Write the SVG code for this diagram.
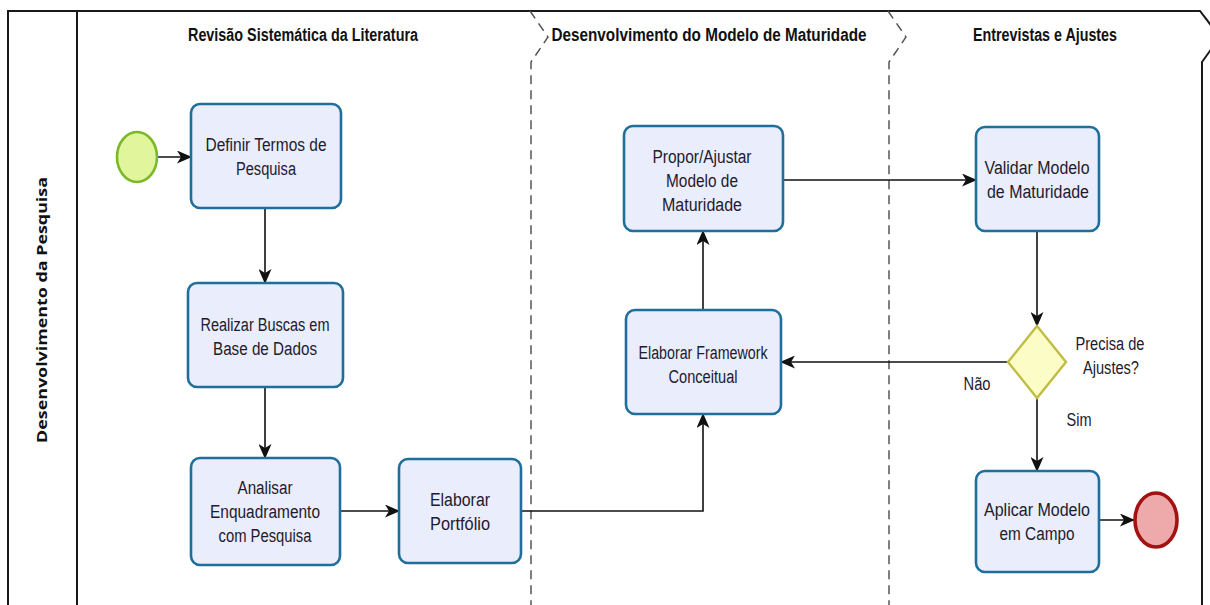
<svg xmlns="http://www.w3.org/2000/svg" width="1210" height="605" viewBox="0 0 1210 605">
<style>
.frame{fill:none;stroke:#1a1a1a;stroke-width:2}
.lane{fill:none;stroke:#555;stroke-width:1.5;stroke-dasharray:9 6}
.task{fill:#e9edfc;stroke:#1f6e9b;stroke-width:2.6}
.t{font-family:"Liberation Sans",Arial,sans-serif;font-size:18px;fill:#231a2e;text-anchor:middle}
.h{font-family:"Liberation Sans",Arial,sans-serif;font-size:18px;font-weight:bold;fill:#111;text-anchor:middle}
.v{font-family:"Open Sans","Liberation Sans",sans-serif;font-size:15px;font-weight:bold;fill:#111;text-anchor:middle}
.conn{fill:none;stroke:#111;stroke-width:1.6}
</style>
<defs>
<marker id="arr" viewBox="0 0 15 13" refX="14" refY="6.5" markerWidth="15" markerHeight="13" markerUnits="userSpaceOnUse" orient="auto">
<path d="M0,0 L15,6.5 L0,13 L4,6.5 z" fill="#111"/>
</marker>
</defs>
<rect width="1210" height="605" fill="#fff"/>
<g id="pool">
<path class="frame" d="M8,605 L8,11 L1200,11 L1220,37 L1202,62 L1202,605"/>
<line class="frame" x1="77" y1="11" x2="77" y2="605"/>
<path class="lane" d="M530,11 L548,37 L531,62 L531,605"/>
<path class="lane" d="M888,11 L906,37 L889,62 L889,605"/>
<text class="v" transform="translate(47,310) rotate(-90)" textLength="266" lengthAdjust="spacingAndGlyphs">Desenvolvimento da Pesquisa</text>
<text class="h" x="303" y="41" textLength="230" lengthAdjust="spacingAndGlyphs">Revisão Sistemática da Literatura</text>
<text class="h" x="709" y="41" textLength="315" lengthAdjust="spacingAndGlyphs">Desenvolvimento do Modelo de Maturidade</text>
<text class="h" x="1045" y="41" textLength="144" lengthAdjust="spacingAndGlyphs">Entrevistas e Ajustes</text>
</g>
<g id="connectors">
<line class="conn" x1="158" y1="157" x2="191" y2="157" marker-end="url(#arr)"/>
<line class="conn" x1="265" y1="208" x2="265" y2="283" marker-end="url(#arr)"/>
<line class="conn" x1="265" y1="387" x2="265" y2="458" marker-end="url(#arr)"/>
<line class="conn" x1="340" y1="511" x2="399" y2="511" marker-end="url(#arr)"/>
<path class="conn" d="M521,511 L703,511 L703,414" marker-end="url(#arr)"/>
<line class="conn" x1="703" y1="310" x2="703" y2="231" marker-end="url(#arr)"/>
<line class="conn" x1="783" y1="180" x2="976" y2="180" marker-end="url(#arr)"/>
<line class="conn" x1="1037" y1="231" x2="1037" y2="326" marker-end="url(#arr)"/>
<line class="conn" x1="1008" y1="362" x2="781" y2="362" marker-end="url(#arr)"/>
<line class="conn" x1="1037" y1="398" x2="1037" y2="471" marker-end="url(#arr)"/>
<line class="conn" x1="1099" y1="520" x2="1134" y2="520" marker-end="url(#arr)"/>
<text class="t" x="977" y="390" textLength="27" lengthAdjust="spacingAndGlyphs">Não</text>
<text class="t" x="1079" y="426" textLength="25" lengthAdjust="spacingAndGlyphs">Sim</text>
</g>
<g id="start">
<ellipse cx="137" cy="157" rx="20" ry="25" fill="#e0f59c" stroke="#7ab92b" stroke-width="2.6"/>
</g>
<g id="task1">
<rect class="task" x="191" y="104" width="150" height="104" rx="9"/>
<text class="t" x="266" y="151" textLength="121" lengthAdjust="spacingAndGlyphs">Definir Termos de</text>
<text class="t" x="266" y="175" textLength="60" lengthAdjust="spacingAndGlyphs">Pesquisa</text>
</g>
<g id="task2">
<rect class="task" x="188" y="283" width="155" height="104" rx="9"/>
<text class="t" x="265" y="331" textLength="129" lengthAdjust="spacingAndGlyphs">Realizar Buscas em</text>
<text class="t" x="265" y="355" textLength="104" lengthAdjust="spacingAndGlyphs">Base de Dados</text>
</g>
<g id="task3">
<rect class="task" x="191" y="458" width="149" height="107" rx="9"/>
<text class="t" x="265" y="494" textLength="55" lengthAdjust="spacingAndGlyphs">Analisar</text>
<text class="t" x="265" y="518" textLength="110" lengthAdjust="spacingAndGlyphs">Enquadramento</text>
<text class="t" x="265" y="542" textLength="93" lengthAdjust="spacingAndGlyphs">com Pesquisa</text>
</g>
<g id="task4">
<rect class="task" x="399" y="459" width="122" height="104" rx="9"/>
<text class="t" x="460" y="506" textLength="60" lengthAdjust="spacingAndGlyphs">Elaborar</text>
<text class="t" x="460" y="530" textLength="60" lengthAdjust="spacingAndGlyphs">Portfólio</text>
</g>
<g id="task5">
<rect class="task" x="624" y="126" width="159" height="105" rx="9"/>
<text class="t" x="702" y="163" textLength="99" lengthAdjust="spacingAndGlyphs">Propor/Ajustar</text>
<text class="t" x="702" y="187" textLength="72" lengthAdjust="spacingAndGlyphs">Modelo de</text>
<text class="t" x="702" y="211" textLength="80" lengthAdjust="spacingAndGlyphs">Maturidade</text>
</g>
<g id="task6">
<rect class="task" x="626" y="310" width="155" height="104" rx="9"/>
<text class="t" x="703" y="359" textLength="129" lengthAdjust="spacingAndGlyphs">Elaborar Framework</text>
<text class="t" x="703" y="383" textLength="69" lengthAdjust="spacingAndGlyphs">Conceitual</text>
</g>
<g id="task7">
<rect class="task" x="976" y="127" width="123" height="104" rx="9"/>
<text class="t" x="1037" y="174" textLength="105" lengthAdjust="spacingAndGlyphs">Validar Modelo</text>
<text class="t" x="1038" y="198" textLength="102" lengthAdjust="spacingAndGlyphs">de Maturidade</text>
</g>
<g id="gateway">
<polygon points="1037,326 1066,362 1037,398 1008,362" fill="#fcfcc6" stroke="#c0bd44" stroke-width="2.4"/>
<text class="t" x="1110" y="350" textLength="69" lengthAdjust="spacingAndGlyphs">Precisa de</text>
<text class="t" x="1111" y="374" textLength="56" lengthAdjust="spacingAndGlyphs">Ajustes?</text>
</g>
<g id="task8">
<rect class="task" x="976" y="471" width="123" height="101" rx="9"/>
<text class="t" x="1037" y="516" textLength="106" lengthAdjust="spacingAndGlyphs">Aplicar Modelo</text>
<text class="t" x="1037" y="540" textLength="75" lengthAdjust="spacingAndGlyphs">em Campo</text>
</g>
<g id="end">
<ellipse cx="1156" cy="520" rx="21" ry="27" fill="#eeaaaa" stroke="#a31212" stroke-width="3.6"/>
</g>
</svg>
